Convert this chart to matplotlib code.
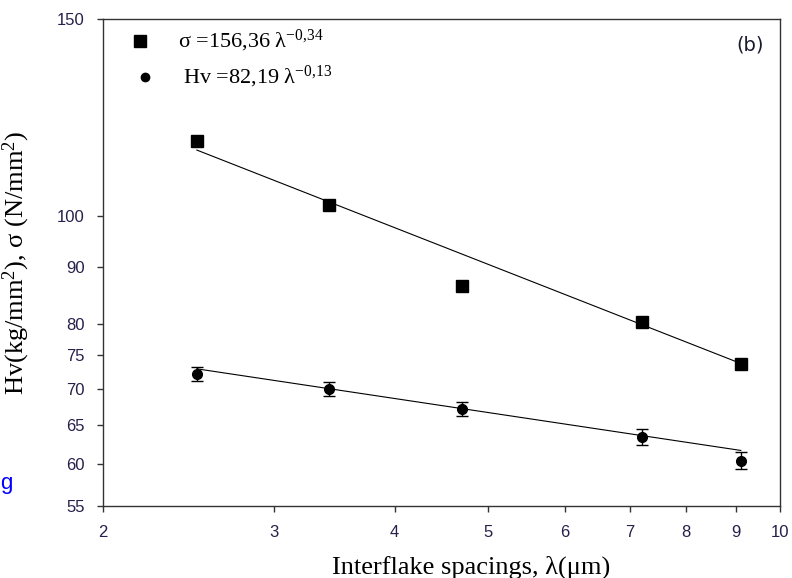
import matplotlib
matplotlib.use("Agg")
import matplotlib.pyplot as plt
from matplotlib.ticker import FixedLocator, NullLocator, FixedFormatter

plt.rcParams['mathtext.fontset'] = 'custom'
plt.rcParams['mathtext.rm'] = 'Liberation Serif'
plt.rcParams['mathtext.it'] = 'Liberation Serif:italic'

# Data
spacing = [2.50, 3.42, 4.69, 7.20, 9.11]          # lambda (um)
sigma = [116.7, 102.3, 86.5, 80.4, 73.7]           # N/mm2
hv = [72.2, 70.0, 67.2, 63.4, 60.4]                # kg/mm2
hv_err = [1.1, 1.0, 1.0, 1.0, 1.1]

# Fit lines (from legend equations)
sigma_coef, sigma_exp = 156.36, -0.34
hv_coef, hv_exp = 82.19, -0.13
fit_x = [spacing[0], spacing[-1]]
sigma_fit = [sigma_coef * x ** sigma_exp for x in fit_x]
hv_fit = [hv_coef * x ** hv_exp for x in fit_x]

xticks = [2, 3, 4, 5, 6, 7, 8, 9, 10]
yticks = [55, 60, 65, 70, 75, 80, 90, 100, 150]

fig = plt.figure(figsize=(7.92, 5.78), dpi=100)
ax = fig.add_axes([103/792, 1 - 506/578, 677/792, 487/578])
ax.set_xscale('log')
ax.set_yscale('log')
ax.set_xlim(2, 10)
ax.set_ylim(55, 150)

tick_color = '#26204a'
ax.xaxis.set_major_locator(FixedLocator(xticks))
ax.xaxis.set_major_formatter(FixedFormatter([str(t) for t in xticks]))
ax.xaxis.set_minor_locator(NullLocator())
ax.yaxis.set_major_locator(FixedLocator(yticks))
ax.yaxis.set_major_formatter(FixedFormatter([str(t) for t in yticks]))
ax.yaxis.set_minor_locator(NullLocator())
ax.tick_params(axis='both', direction='out', length=4, width=1, color='#333333',
               labelsize=12, labelcolor=tick_color, pad=9)
ax.tick_params(axis='x', pad=10)
for lab in ax.get_xticklabels() + ax.get_yticklabels():
    lab.set_fontfamily('Liberation Sans')
for s in ax.spines.values():
    s.set_color('#333333')
    s.set_linewidth(1.0)

ax.plot(fit_x, sigma_fit, color='black', lw=0.8)
ax.plot(fit_x, hv_fit, color='black', lw=0.8)
ax.plot(spacing, sigma, 's', color='black', markersize=8)
ax.errorbar(spacing, hv, yerr=hv_err, fmt='o', color='black', markersize=7,
            capsize=4.5, elinewidth=1, capthick=1)

# Legend (manual)
ax.plot([(140-103)/677], [(506-41)/487], 's', color='black', markersize=8,
        transform=ax.transAxes, clip_on=False)
ax.plot([(145-103)/677], [(506-77)/487], 'o', color='black', markersize=6,
        transform=ax.transAxes, clip_on=False)
ax.text((178-103)/677, (506-41)/487, r'σ =156,36 λ$^{-0{,}34}$', transform=ax.transAxes,
        fontsize=16, family='Liberation Serif', va='center', ha='left')
ax.text((183-103)/677, (506-77)/487, r'Hv =82,19 λ$^{-0{,}13}$', transform=ax.transAxes,
        fontsize=16, family='Liberation Serif', va='center', ha='left')
ax.text((764-103)/677, (506-45)/487, '(b)', transform=ax.transAxes,
        fontsize=14, family='DejaVu Sans', va='center', ha='right', color='#1a1a2e')

ax.set_xlabel('Interflake spacings, λ(μm)', fontsize=19, family='Liberation Serif')
ax.xaxis.set_label_coords((471-103)/677, (506-556)/487)
ax.set_ylabel(r'Hv(kg/mm$^{2}$), σ (N/mm$^{2}$)', fontsize=19, family='Liberation Serif')
ax.yaxis.set_label_coords((32-103)/677, 0.5)

fig.text(0.0, 1 - 483/578, 'g', color='blue', fontsize=16, family='Liberation Sans',
         va='center', ha='left')

fig.savefig('out.png', dpi=100)
